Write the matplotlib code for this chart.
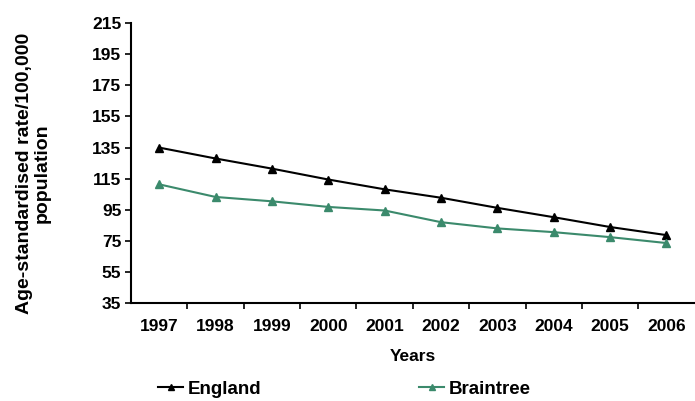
import matplotlib.pyplot as plt

plt.rcParams['font.family'] = ['Liberation Sans', 'DejaVu Sans']
plt.rcParams['font.weight'] = 'bold'

years = ["1997", "1998", "1999", "2000", "2001", "2002", "2003", "2004", "2005", "2006"]
england = [135.0, 128.0, 121.5, 114.5, 108.2, 102.8, 96.3, 90.3, 84.0, 78.8]
braintree = [111.4, 103.3, 100.5, 96.9, 94.6, 87.1, 83.1, 80.7, 77.5, 73.7]
yticks = [35, 55, 75, 95, 115, 135, 155, 175, 195, 215]

green = '#3b8a6c'

fig = plt.figure(figsize=(6.95, 4.01), dpi=100)
ax = fig.add_axes([0.1885, 0.2436, 0.811, 0.699])

x = list(range(len(years)))
ax.plot(x, england, color='black', marker='^', markersize=5.5, lw=1.5, label='England')
ax.plot(x, braintree, color=green, marker='^', markersize=5.5, lw=1.5, label='Braintree')

ax.set_xlim(-0.5, len(years) - 0.5)
ax.set_ylim(35, 215)
ax.set_yticks(yticks)
# category boundaries get the tick marks, labels sit in between
ax.set_xticks([i + 0.5 for i in range(len(years) - 1)])
ax.set_xticklabels([])
ax.set_xticks(x, minor=True)
ax.set_xticklabels(years, minor=True)
ax.tick_params(axis='x', which='minor', length=0, pad=11, labelsize=12.5)
ax.tick_params(axis='x', which='major', length=4, width=1.2)
ax.tick_params(axis='y', length=4, width=1.2, labelsize=12.5, pad=3)

for s in ['top', 'right']:
    ax.spines[s].set_visible(False)
for s in ['left', 'bottom']:
    ax.spines[s].set_linewidth(1.5)

ax.set_xlabel('Years', fontsize=12.5, fontweight='bold', labelpad=11)
ax.set_ylabel('Age-standardised rate/100,000\npopulation', fontsize=14,
              fontweight='bold', linespacing=1.0)
ax.yaxis.set_label_coords(-0.143, 0.465)

ax.legend(loc='center left', bbox_to_anchor=(0.048, -0.306), ncol=2, frameon=False,
          fontsize=13.5, handlelength=1.33, handletextpad=0.27, columnspacing=8.4,
          borderaxespad=0, borderpad=0, markerscale=0.75)

plt.savefig('out.png', dpi=100)
